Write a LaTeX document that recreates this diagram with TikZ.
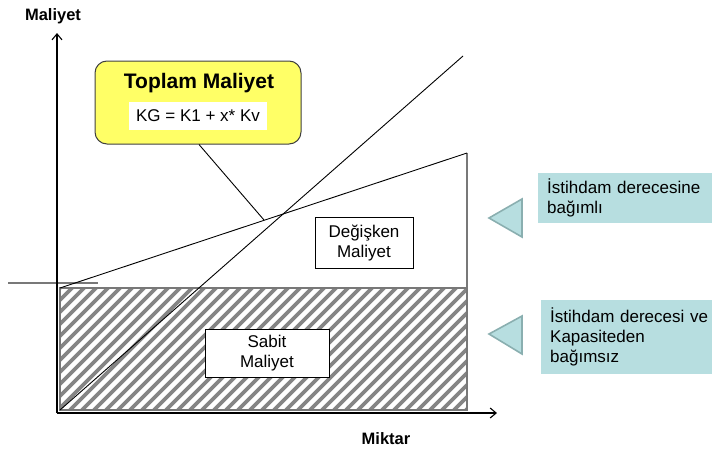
\documentclass[tikz,border=0pt]{standalone}
\usepackage{fontspec}
\setmainfont{Liberation Sans}
\usetikzlibrary{arrows.meta}
\definecolor{teal1}{HTML}{B7DEE0}
\definecolor{teal2}{HTML}{8AAFB0}
\definecolor{yel}{HTML}{FFFF66}
\definecolor{hatch}{HTML}{858585}
\tikzset{
  axis/.style={line width=1.1pt, -{Straight Barb[length=6pt,width=10pt]}},
  costline/.style={line width=0.9pt, black},
  grayline/.style={line width=1.3pt, draw=hatch!90!black},
  lbl/.style={font=\fontsize{17}{20}\selectfont, align=center, inner sep=0pt},
  axlbl/.style={font=\bfseries\fontsize{16.5}{19}\selectfont, inner sep=0pt},
  whitebox/.style={draw, line width=0.9pt, fill=white, font=\fontsize{17}{20}\selectfont, align=center, inner sep=0pt},
  tealbox/.style={fill=teal1, anchor=north west, font=\fontsize{17}{20}\selectfont, align=left, inner xsep=9pt, inner ysep=0pt, text width=160pt},
  tri/.style={fill=teal1, draw=teal2, line width=1.6pt, line join=miter},
}
\begin{document}
\begin{tikzpicture}[x=1pt,y=-1pt]
\useasboundingbox (0,0) rectangle (712,450);
% coordinates
\coordinate (O) at (57,413);
\coordinate (Ytip) at (57,33);
\coordinate (Xtip) at (497,413);
\coordinate (RTL) at (60,288);
\coordinate (RBR) at (467,410);
\coordinate (RTR) at (467,288);
\coordinate (VEnd) at (467,153);
\coordinate (TStart) at (60,410);
\coordinate (TEnd) at (463,56);
\coordinate (HL) at (8,283);
\coordinate (HR) at (98,283);
\coordinate (Ptr) at (264,220);
% hatched fixed cost area
\begin{scope}
  \clip (RTL) rectangle (RBR);
  \foreach \x in {-74,-62,...,470}{
    \draw[hatch, line width=3.6pt] (\x,410) -- ++(126,-126);
  }
\end{scope}
\draw[grayline] (RTL) rectangle (RBR);
% variable region right edge
\draw[grayline] (VEnd) -- (RTR);
\draw[grayline] (HL) -- (HR);
% axes
\draw[axis] (O) -- (Ytip);
\draw[axis] (O) -- (Xtip);
\node[axlbl] (ylab) at (53,16) {Maliyet};
\node[axlbl] (xlab) at (386,439) {Miktar};
% cost lines
\draw[costline] (RTL) -- (VEnd);
\draw[costline] (TStart) -- (TEnd);
% labels in graph
\node[whitebox, minimum width=98pt, minimum height=51pt] (var) at (364,242.5) {Değişken\\Maliyet};
\node[whitebox, minimum width=124pt, minimum height=48pt] (fix) at (267,353) {Sabit\\Maliyet};
% total cost callout
\node[draw=black!75, line width=1pt, fill=yel, rounded corners=12pt, minimum width=206pt, minimum height=83pt] (tot) at (198,102.5) {};
\node[font=\bfseries\fontsize{21}{24}\selectfont, inner sep=0pt] (totT) at (199,83) {Toplam Maliyet};
\node[fill=white, font=\fontsize{17}{20}\selectfont, minimum width=138pt, minimum height=28pt, inner sep=0pt] (form) at (198,116) {KG = K1 + x* Kv};
\draw[costline] (199,144.5) -- (Ptr);
% right side
\draw[tri] (489,218) -- (522,199) -- (522,237) -- cycle;
\draw[tri] (489,334) -- (522,316) -- (522,354) -- cycle;
\node[tealbox, minimum height=50pt] (t1) at (538,173) {İstihdam derecesine\\bağımlı};
\node[tealbox, minimum height=74pt] (t2) at (541,300) {İstihdam derecesi ve\\Kapasiteden\\bağımsız};
\end{tikzpicture}
\end{document}
